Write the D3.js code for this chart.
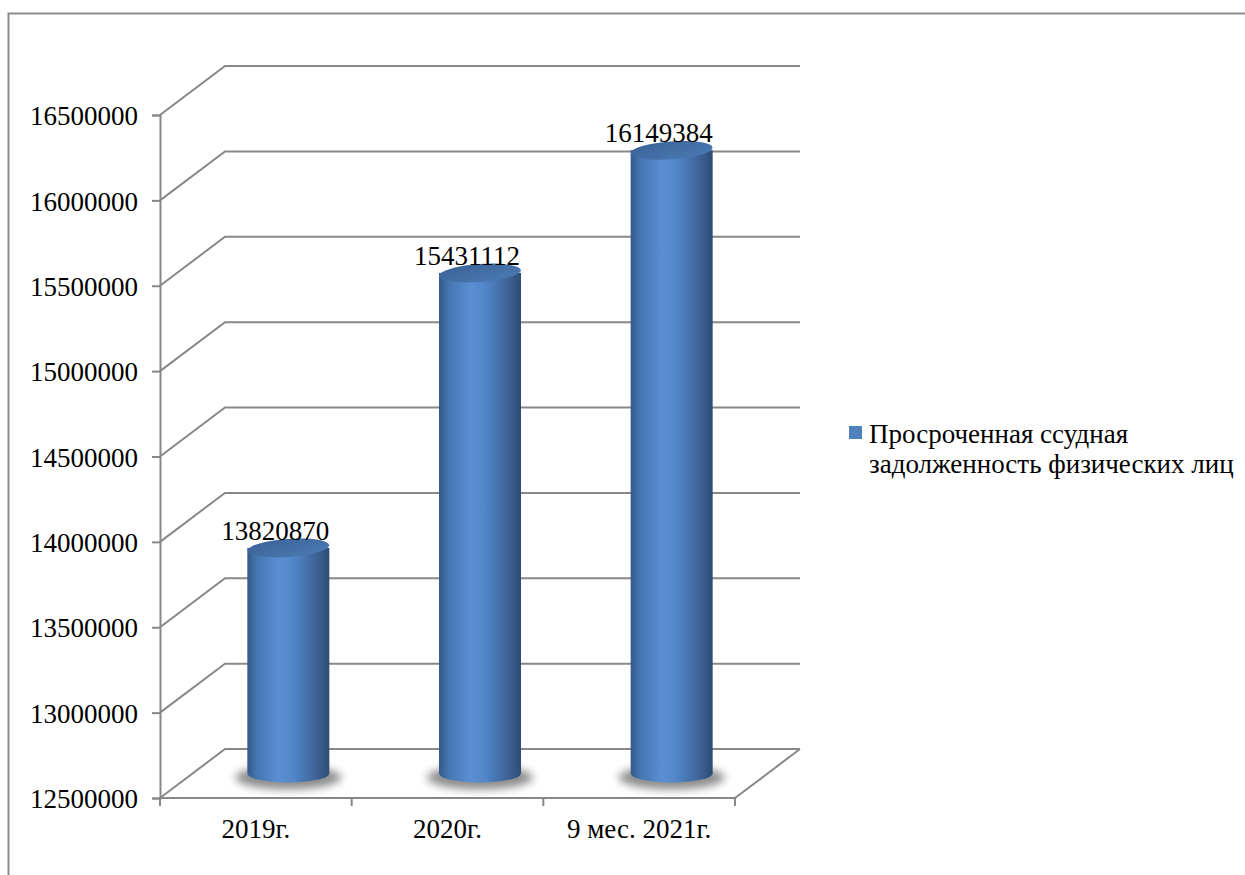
<!DOCTYPE html>
<html>
<head>
<meta charset="utf-8">
<script src="https://cdn.jsdelivr.net/npm/d3@7"></script>
<style>
  html, body { margin: 0; padding: 0; background: #fff; }
  svg { display: block; }
</style>
</head>
<body>
<svg id="chart" width="1245" height="875"></svg>
<script>
// Overdue loan debt of individuals
const categories = ["2019г.", "2020г.", "9 мес. 2021г."];
const values = [13820870, 15431112, 16149384];
const tickValues = [12500000, 13000000, 13500000, 14000000, 14500000, 15000000, 15500000, 16000000, 16500000];
const seriesName = ["Просроченная ссудная", "задолженность физических лиц"];

(function () {
const svg = d3.select("#chart");
const W = 1245, H = 875;
const FONT = "'Liberation Serif', 'Times New Roman', serif";
const FS = "27px";

// Plot frame (front plane) and depth offset of the 3D walls
const plotLeft = 160, plotRight = 735, plotTop = 115, plotBottom = 798;
const DX = 65, DY = -49;
const gridColor = "#888888";

const y = d3.scaleLinear().domain([12500000, 16500000]).range([plotBottom, plotTop]);
const x = d3.scaleBand().domain(categories).range([plotLeft, plotRight]);

// Outer chart border
svg.append("rect")
  .attr("x", 8.5).attr("y", 13.5)
  .attr("width", W + 20).attr("height", H + 20)
  .attr("fill", "none").attr("stroke", "#8c8c8c").attr("stroke-width", 2);

const defs = svg.append("defs");
const bodyGrad = defs.append("linearGradient").attr("id", "cylBody")
  .attr("x1", "0%").attr("x2", "100%").attr("y1", "0%").attr("y2", "0%");
[["0%", "#34598a"], ["12%", "#4676b2"], ["38%", "#5a8fd3"], ["55%", "#5287ca"],
 ["80%", "#41699f"], ["100%", "#2c4c76"]].forEach(([o, c]) =>
  bodyGrad.append("stop").attr("offset", o).attr("stop-color", c));
const topGrad = defs.append("linearGradient").attr("id", "cylTop")
  .attr("x1", "0%").attr("x2", "100%").attr("y1", "0%").attr("y2", "100%");
[["0%", "#3a6295"], ["60%", "#4471a8"], ["100%", "#4b7bb4"]].forEach(([o, c]) =>
  topGrad.append("stop").attr("offset", o).attr("stop-color", c));
defs.append("filter").attr("id", "shadowBlur")
  .attr("x", "-50%").attr("y", "-100%").attr("width", "200%").attr("height", "300%")
  .append("feGaussianBlur").attr("stdDeviation", 4);

// Back wall gridlines with left-wall diagonals
const grid = svg.append("g").attr("stroke", gridColor).attr("stroke-width", 2).attr("fill", "none");
tickValues.forEach(v => {
  const yy = y(v);
  grid.append("path")
    .attr("d", `M${plotLeft},${yy} L${plotLeft + DX},${yy + DY} L${plotRight + DX},${yy + DY}`);
});
// Floor front edge and right edge
grid.append("path").attr("d", `M${plotLeft},${plotBottom} L${plotRight},${plotBottom} L${plotRight + DX},${plotBottom + DY}`);

// Y axis (front)
const yAxis = svg.append("g").attr("transform", `translate(${plotLeft},0)`)
  .call(d3.axisLeft(y).tickValues(tickValues).tickSize(8).tickPadding(14).tickFormat(d3.format("d")));
yAxis.attr("font-family", null).attr("font-size", null);
yAxis.select(".domain").attr("stroke", gridColor).attr("stroke-width", 2);
yAxis.selectAll(".tick line").attr("stroke", gridColor).attr("stroke-width", 2);
yAxis.selectAll(".tick text")
  .style("font-family", FONT).style("font-size", FS)
  .attr("fill", "#000").attr("dy", "0.36em");

// X axis ticks at band boundaries
const xb = svg.append("g").attr("stroke", gridColor).attr("stroke-width", 2);
const boundaries = categories.map(c => x(c)).concat([plotRight]);
boundaries.forEach(bx => {
  xb.append("line").attr("x1", bx).attr("x2", bx).attr("y1", plotBottom).attr("y2", plotBottom + 8);
});
svg.append("g").selectAll("text").data(categories).join("text")
  .attr("x", d => x(d) + x.bandwidth() / 2)
  .attr("y", plotBottom + 40)
  .attr("text-anchor", "middle")
  .style("font-family", FONT).style("font-size", FS)
  .text(d => d);

// Cylinders placed at half depth
const rx = 41, ry = 9, tilt = -4;
const bars = svg.append("g");
const labels = svg.append("g");
const baseY = plotBottom + DY / 2;
categories.forEach((c, i) => {
  const cx = x(c) + x.bandwidth() / 2 + DX / 2;
  const topY = y(values[i]) + DY / 2;
  const g = bars.append("g");
  // floor shadow
  g.append("ellipse")
    .attr("cx", cx).attr("cy", baseY + 4).attr("rx", rx + 12).attr("ry", ry + 3)
    .attr("fill", "#707070").attr("opacity", 0.8).attr("filter", "url(#shadowBlur)");
  // body
  g.append("path")
    .attr("d", `M${cx - rx},${topY} L${cx - rx},${baseY} A${rx},${ry} 0 0 0 ${cx + rx},${baseY} L${cx + rx},${topY} Z`)
    .attr("fill", "url(#cylBody)");
  // top cap
  g.append("ellipse")
    .attr("cx", cx).attr("cy", topY).attr("rx", rx).attr("ry", ry)
    .attr("transform", `rotate(${tilt},${cx},${topY})`)
    .attr("fill", "url(#cylTop)");
  // value label
  labels.append("text")
    .attr("x", x(c) + x.bandwidth() / 2 + DX * 0.3)
    .attr("y", topY - ry + 1)
    .attr("text-anchor", "middle")
    .style("font-family", FONT).style("font-size", FS)
    .text(values[i]);
});

// Legend
const lg = svg.append("g");
lg.append("rect").attr("x", 849).attr("y", 426).attr("width", 13).attr("height", 13).attr("fill", "#4f81bd");
lg.selectAll("text").data(seriesName).join("text")
  .attr("x", 869).attr("y", (d, i) => 443 + i * 30)
  .style("font-family", FONT).style("font-size", FS)
  .text(d => d);
})();
</script>
</body>
</html>
